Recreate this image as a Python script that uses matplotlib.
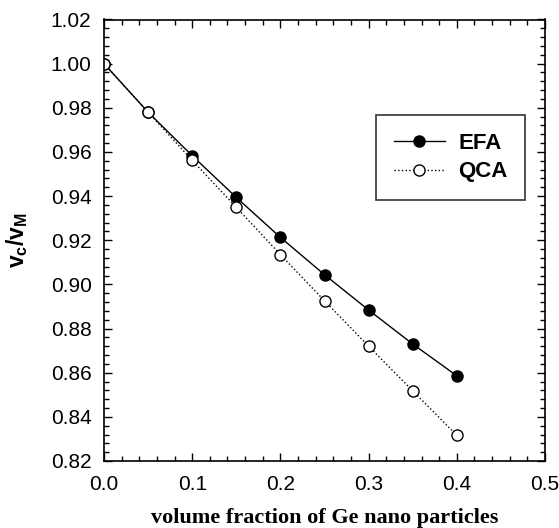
import matplotlib.pyplot as plt
from matplotlib.ticker import MultipleLocator

plt.rcParams['font.family'] = ['Liberation Sans', 'DejaVu Sans']
plt.rcParams['mathtext.fontset'] = 'custom'
plt.rcParams['mathtext.bf'] = 'Liberation Sans:bold'
plt.rcParams['mathtext.rm'] = 'Liberation Sans'

# volume fraction of Ge nano particles
fraction = [0.0, 0.05, 0.10, 0.15, 0.20, 0.25, 0.30, 0.35, 0.40]
efa = [1.000, 0.978, 0.9583, 0.9394, 0.9213, 0.9044, 0.8884, 0.873, 0.8586]
qca = [1.000, 0.978, 0.9562, 0.9349, 0.9135, 0.8926, 0.872, 0.8518, 0.8316]

fig = plt.figure(figsize=(5.59, 5.28), dpi=100)
ax = fig.add_axes([104 / 559, 1 - 461 / 528, 441 / 559, 441.5 / 528])

ax.plot(fraction, efa, '-', color='black', lw=1.0, marker='o', ms=8,
        mfc='black', mec='black', label='EFA')
ax.plot(fraction, qca, ':', color='black', lw=1.0, marker='o', ms=8,
        mfc='white', mec='black', mew=1.0, label='QCA')

ax.set_xlim(0, 0.5)
ax.set_ylim(0.82, 1.02)
ax.xaxis.set_major_locator(MultipleLocator(0.1))
ax.xaxis.set_minor_locator(MultipleLocator(0.02))
ax.yaxis.set_major_locator(MultipleLocator(0.02))
ax.yaxis.set_minor_locator(MultipleLocator(0.004))
ax.xaxis.set_major_formatter(plt.FormatStrFormatter('%.1f'))
ax.yaxis.set_major_formatter(plt.FormatStrFormatter('%.2f'))
ax.tick_params(which='both', direction='in', top=True, right=True,
               labelsize=15, width=1)
ax.tick_params(which='major', length=6)
ax.tick_params(which='minor', length=3.5)
ax.tick_params(axis='y', which='major', pad=9)
ax.tick_params(axis='x', which='major', pad=10)
for s in ax.spines.values():
    s.set_linewidth(1.2)

ax.set_xlabel('volume fraction of Ge nano particles', family='Liberation Serif',
              fontweight='bold', fontsize=16, labelpad=10)
ax.set_ylabel(r'$\mathbf{v}_\mathbf{c}\mathbf{/v}_\mathbf{M}$', fontsize=16.5, labelpad=15)

leg = ax.legend(loc='upper right', bbox_to_anchor=(0.955, 0.784), frameon=True,
                fancybox=False, edgecolor='black', handlelength=2.3,
                handletextpad=0.6, borderpad=0.8, labelspacing=0.35,
                borderaxespad=0, prop={'weight': 'bold', 'size': 16})
leg.get_frame().set_linewidth(1.2)

fig.savefig('out.png', dpi=100)
